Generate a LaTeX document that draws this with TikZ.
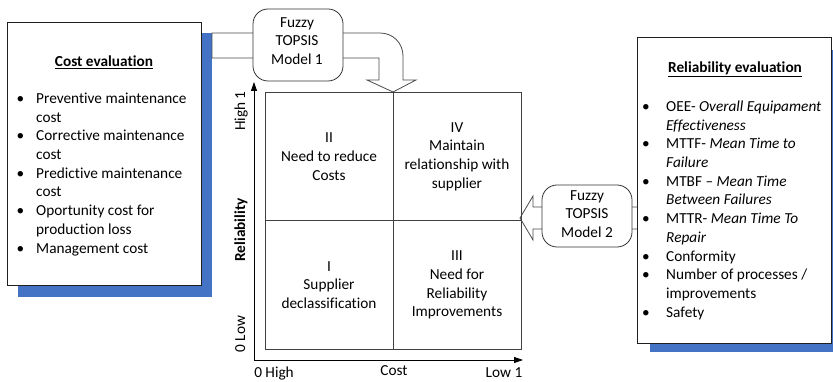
\documentclass[tikz,border=0pt]{standalone}
\usepackage{fontspec}
\setmainfont{Carlito}[Ligatures={TeX,NoCommon}]
\usetikzlibrary{arrows.meta}
\definecolor{shadowblue}{RGB}{68,114,196}
\definecolor{linegrey}{RGB}{64,64,64}

\begin{document}
\begin{tikzpicture}[x=1pt,y=-1pt,
  font=\fontsize{15.3}{18.7}\selectfont,
  panel/.style={draw=black!88, line width=1pt, fill=white, inner sep=0pt, anchor=north west},
  dropshade/.style={fill=shadowblue, draw=none},
  fuzzybox/.style={draw=black!80, line width=0.8pt, fill=white, rounded corners=15pt, inner sep=0pt},
  blockarrow/.style={draw=black!70, line width=0.8pt, fill=white, line join=miter},
  quadrant/.style={draw=linegrey, line width=0.8pt, minimum width=128pt, minimum height=128.5pt,
                   inner sep=0pt, align=center},
  axis/.style={draw=black, line width=0.8pt, -{Triangle[length=9pt,width=6pt]}},
  txt/.style={inner sep=0pt, align=center},
  axislabel/.style={inner sep=0pt, anchor=base},
]
\useasboundingbox (0,0) rectangle (833,382);

% drop shadows of the two evaluation panels
\path[dropshade] (18,33) rectangle (212,297);
\path[dropshade] (650,50) rectangle (833,352);

% block arrow: cost evaluation -> model 1 -> top of the matrix
\coordinate (toptip) at (393,92);
\draw[blockarrow] (212,33) -- (380,33) .. controls (393,33) and (403,43) .. (403,56)
  -- (403,80) -- (416,80) -- (toptip) -- (367,80) -- (379,80) -- (379,58) -- (212,58) -- cycle;

% block arrow: reliability evaluation -> model 2 -> right side of the matrix
\coordinate (sidetip) at (520,218);
\draw[blockarrow] (638,207) -- (533,207) -- (533,196) -- (sidetip) -- (533,240)
  -- (533,229) -- (638,229) -- cycle;

% fuzzy TOPSIS models
\node[fuzzybox, minimum width=90pt, minimum height=72pt] (fuzzy1) at (298,45) {};
\node[txt] (fuzzy1txt) at (297,41) {Fuzzy\\TOPSIS\\Model 1};
\node[fuzzybox, minimum width=90pt, minimum height=62pt] (fuzzy2) at (587,216) {};
\node[txt] (fuzzy2txt) at (587,214) {Fuzzy\\TOPSIS\\Model 2};

% evaluation panels
\node[panel, minimum width=194pt, minimum height=263pt] (costpanel) at (7,22) {};
\node[panel, minimum width=194pt, minimum height=306pt] (relpanel) at (637,37) {};

\node[axislabel] (costtitle) at (104,66.5) {\underline{\textbf{Cost evaluation}}};
\node[anchor=base west, inner sep=0pt] (costlist) at (16.5,103.5) {%
\begin{tabular}[t]{@{}p{19.5pt}@{}l@{}}
\textbullet & Preventive maintenance\\
 & cost\\
\textbullet & Corrective maintenance\\
 & cost\\
\textbullet & Predictive maintenance\\
 & cost\\
\textbullet & Oportunity cost for\\
 & production loss\\
\textbullet & Management cost
\end{tabular}};

\node[axislabel] (reltitle) at (735,72.5) {\underline{\textbf{Reliability evaluation}}};
\node[anchor=base west, inner sep=0pt] (rellist) at (642,111.5) {%
\begin{tabular}[t]{@{}p{24pt}@{}l@{}}
\textbullet & OEE- \textit{Overall Equipament}\\
 & \textit{Effectiveness}\\
\textbullet & MTTF- \textit{Mean Time to}\\
 & \textit{Failure}\\
\textbullet & MTBF – \textit{Mean Time}\\
 & \textit{Between Failures}\\
\textbullet & MTTR- \textit{Mean Time To}\\
 & \textit{Repair}\\
\textbullet & Conformity\\
\textbullet & Number of processes /\\
 & improvements\\
\textbullet & Safety
\end{tabular}};

% reliability / cost matrix
\node[quadrant] (qII)  at (329,156.5) {II\\Need to reduce\\Costs};
\node[quadrant] (qIV)  at (457,156.5) {IV\\Maintain\\relationship with\\supplier};
\node[quadrant] (qI)   at (329,285)   {I\\Supplier\\declassification};
\node[quadrant] (qIII) at (457,285)   {III\\Need for\\Reliability\\Improvements};

% axes
\coordinate (origin) at (254,360);
\coordinate (ytop) at (254,82);
\coordinate (xend) at (523,360);
\draw[axis] (origin) -- (ytop);
\draw[axis] (origin) -- (xend);

\node[axislabel, rotate=90] (yhigh) at (245,111) {High 1};
\node[axislabel, rotate=90] (yname) at (245,230) {\bfseries Reliability};
\node[axislabel, rotate=90] (ylow)  at (245,334) {0 Low};
\node[axislabel] (xhigh) at (274,377) {0 High};
\node[axislabel] (xname) at (394,375) {Cost};
\node[axislabel] (xlow)  at (504,377) {Low 1};
\end{tikzpicture}
\end{document}
